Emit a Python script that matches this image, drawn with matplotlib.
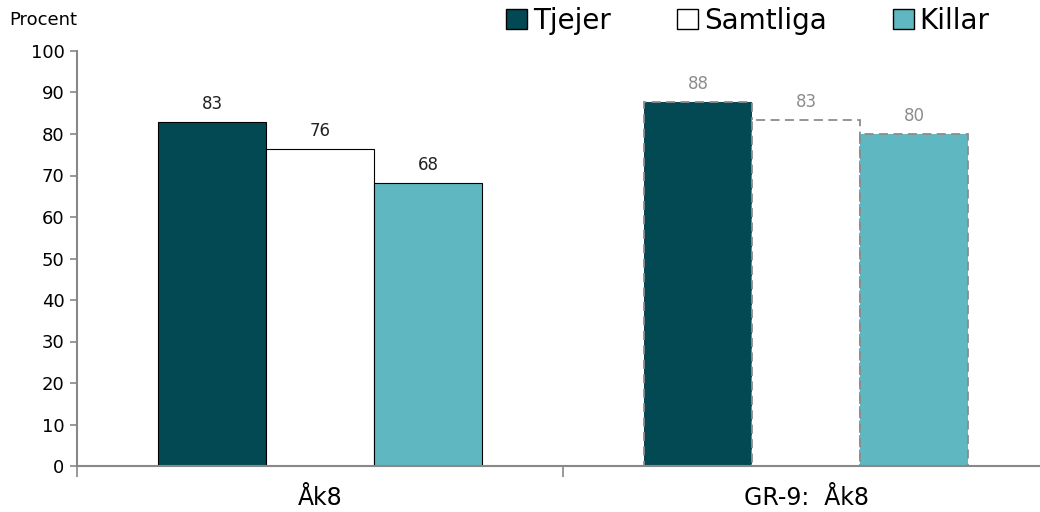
import numpy as np
import matplotlib.pyplot as plt
from matplotlib.patches import Patch

categories = ['Åk8', 'GR-9:  Åk8']
series = ['Tjejer', 'Samtliga', 'Killar']
values = {
    'Tjejer': [82.9, 87.7],
    'Samtliga': [76.4, 83.3],
    'Killar': [68.2, 80.0],
}
labels = {
    'Tjejer': ['83', '88'],
    'Samtliga': ['76', '83'],
    'Killar': ['68', '80'],
}
colors = {'Tjejer': '#024953', 'Samtliga': '#ffffff', 'Killar': '#5fb7c1'}

plt.rcParams['font.family'] = ['DejaVu Sans']

fig = plt.figure(figsize=(10.4, 5.12), dpi=100)
ax = fig.add_axes([77 / 1040, 1 - 466 / 512, 1 - 77 / 1040, (466 - 51) / 512])

width = 0.222
x = np.arange(len(categories))
for i, s in enumerate(series):
    for j in range(len(categories)):
        xpos = x[j] + (i - 1) * width
        if j == 0:
            ax.bar(xpos, values[s][j], width, color=colors[s], edgecolor='black', linewidth=0.8)
            lc = '#222222'
        else:
            # second group drawn with dashed grey outline
            ax.bar(xpos, values[s][j], width, color=colors[s], edgecolor='#8c8c8c',
                   linewidth=1.3, linestyle=(0, (5, 3)))
            lc = '#8c8c8c'
        ax.text(xpos, values[s][j] + 2.2, labels[s][j], ha='center', va='bottom',
                fontsize=12, color=lc)

ax.set_ylim(0, 100)
ax.set_xlim(-0.5, -0.5 + (1040 - 77) / 486)
ax.set_yticks(range(0, 101, 10))
ax.tick_params(axis='y', labelsize=13, length=5, color='#888888', width=1.2, pad=4)
ax.set_xticks([])
ax.set_xticks([-0.5, 0.5], minor=True)
ax.tick_params(axis='x', which='minor', length=8, color='#888888', width=1.2)
for j, c in enumerate(categories):
    ax.text(x[j], -7.6, c, ha='center', va='center', fontsize=17)

for sp in ['top', 'right']:
    ax.spines[sp].set_visible(False)
for sp in ['left', 'bottom']:
    ax.spines[sp].set_color('#888888')
    ax.spines[sp].set_linewidth(1.5)

fig.text(9 / 1040, 1 - 20 / 512, 'Procent', fontsize=13, va='center', ha='left')

handles = [Patch(facecolor=colors[s], edgecolor='black', linewidth=1) for s in series]
fig.legend(handles, series, loc='center', bbox_to_anchor=(748 / 1040, 1 - 21 / 512),
           ncol=3, frameon=False, fontsize=20, handlelength=0.75, handleheight=0.75,
           handletextpad=0.2, columnspacing=2.4)

fig.savefig('out.png', dpi=100)
